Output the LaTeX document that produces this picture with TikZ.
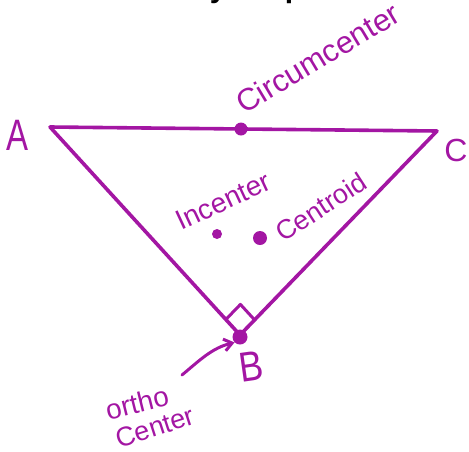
\documentclass[tikz,border=0pt]{standalone}
\usepackage{fontspec}
\setmainfont{Liberation Sans}
\usetikzlibrary{calc,arrows.meta}
\definecolor{pur}{RGB}{163,22,163}
\tikzset{
  edge/.style={draw=pur, line width=3.6pt, line join=round, line cap=round},
  dotnode/.style={circle, fill=pur, inner sep=0pt, minimum size=#1},
  hand/.style={text=pur, inner sep=0pt, font=\fontsize{#1}{#1}\selectfont},
  vlabel/.style={text=pur, inner sep=0pt, font=\fontsize{#1}{#1}\selectfont},
}
\begin{document}
\begin{tikzpicture}[x=1pt,y=-1pt]
\useasboundingbox (0,0) rectangle (469,451);
\begin{scope}
\clip (0,0) rectangle (469,451);
\node[anchor=base, inner sep=0pt, font=\bfseries\fontsize{30}{30}\selectfont] (title) at (235,-3) {Geometry Properties};
\end{scope}
% vertices
\coordinate (A) at (50,127);
\coordinate (C) at (437,131);
\coordinate (B) at (240,335);
\draw[edge] (A) -- (C) -- (B) -- cycle;
% right angle mark
\coordinate (R1) at ($(B)!21pt!(A)$);
\coordinate (R3) at ($(B)!21pt!(C)$);
\coordinate (R2) at ($(R1)+(R3)-(B)$);
\draw[draw=pur, line width=3pt, line join=round] (R1) -- (R2) -- (R3);
% dots
\node[dotnode=13pt] (cc) at (241,129) {};
\node[dotnode=10pt] (ic) at (217,234) {};
\node[dotnode=14pt] (ce) at (260,238) {};
\node[dotnode=15pt] (oc) at (240,337) {};
% labels
\node[hand=31, rotate=31] (cclbl) at (318,58) {Circumcenter};
\node[hand=28, rotate=25] (iclbl) at (223,201) {Incenter};
\node[hand=27, rotate=33] (celbl) at (321,207) {Centroid};
\node[hand=28, rotate=14] (oclbl1) at (137,403) {ortho};
\node[hand=27, rotate=18] (oclbl2) at (155,427) {Center};
\node[vlabel=44, xscale=0.75] (Alb) at (18,135) {A};
\node[vlabel=32] (Clb) at (456,150) {C};
\node[vlabel=42, rotate=8, xscale=0.85] (Blb) at (251,367) {B};
% arrow
\coordinate (arrS) at (182,375);
\draw[draw=pur, line width=3pt, line cap=round, -{Straight Barb[length=8pt,width=12pt]}] (arrS) .. controls (200,360) and (212,348) .. (oc.south west);
\end{tikzpicture}
\end{document}
